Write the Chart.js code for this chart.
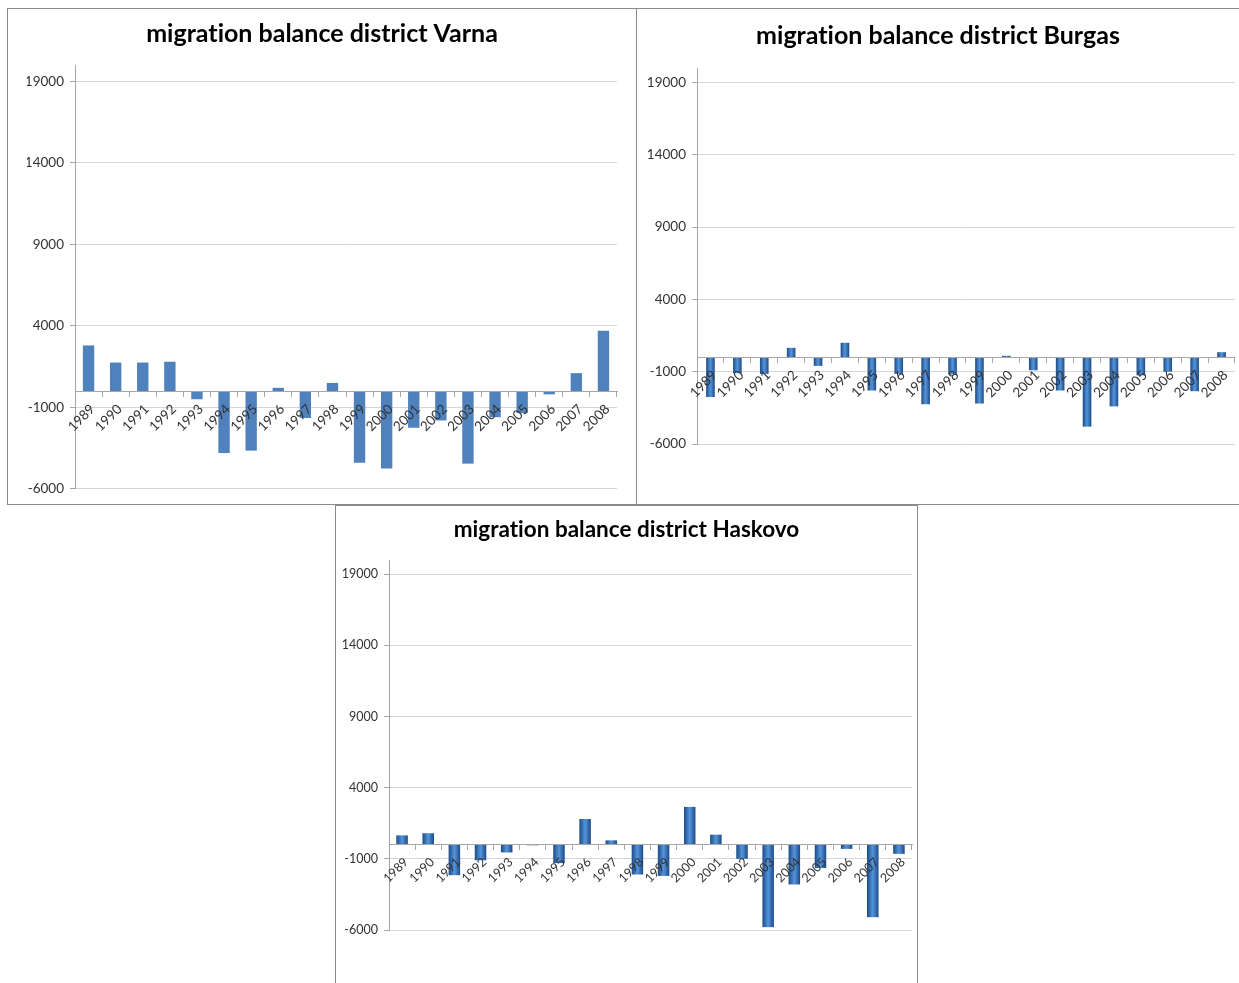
<!DOCTYPE html>
<html>
<head>
<meta charset="utf-8">
<script src="https://cdn.jsdelivr.net/npm/chart.js@4.4.1/dist/chart.umd.min.js"></script>
<style>
  html, body { margin: 0; padding: 0; background: #fff; }
  body { position: relative; width: 1239px; height: 983px; overflow: hidden; }
  .frame { position: absolute; box-sizing: border-box; border: 1.5px solid #8a8a8a; background: #fff; }
  canvas { position: absolute; }
</style>
</head>
<body>
<div class="frame" style="left:7px;top:8px;width:630px;height:497px"></div>
<div class="frame" style="left:636px;top:8px;width:610px;height:497px"></div>
<div class="frame" style="left:335px;top:505px;width:583px;height:490px"></div>
<canvas id="varna" width="626" height="493" style="left:9px;top:10px"></canvas>
<canvas id="burgas" width="600" height="493" style="left:638px;top:10px"></canvas>
<canvas id="haskovo" width="579" height="476" style="left:337px;top:507px"></canvas>
<script>
// Years on the category axis
const years = ['1989','1990','1991','1992','1993','1994','1995','1996','1997','1998',
               '1999','2000','2001','2002','2003','2004','2005','2006','2007','2008'];

// Net migration per year, by district
const varna   = [2800, 1750, 1750, 1800, -500, -3800, -3650, 200, -1650, 500,
                 -4400, -4750, -2250, -1800, -4450, -1600, -1350, -200, 1100, 3700];
const burgas  = [-2750, -1100, -1150, 650, -600, 1000, -2300, -1150, -3250, -1200,
                 -3200, 100, -900, -2300, -4800, -3400, -1250, -1000, -2350, 350];
const haskovo = [650, 800, -2150, -1100, -550, -50, -1300, 1800, 300, -2100,
                 -2200, 2650, 700, -1000, -5800, -2800, -1650, -300, -5100, -650];

// Value axis tick labels
const yTicks = [-6000, -1000, 4000, 9000, 14000, 19000];

const TEXT = '#333333';
const AXIS = '#a6a6a6';
const GRID = '#d6d6d6';

// Plain glyphs, no "ti" ligature in the titles
const plainText = {
  id: 'plainText',
  beforeDraw(chart) { chart.ctx.textRendering = 'optimizeSpeed'; }
};

// Shades each bar with a horizontal edge-to-centre gradient (bevelled look)
const bevel = {
  id: 'bevel',
  beforeDatasetsDraw(chart, args, opts) {
    if (!opts.on) return;
    const ctx = chart.ctx;
    chart.getDatasetMeta(0).data.forEach(el => {
      const { x, width } = el.getProps(['x', 'width'], true);
      const g = ctx.createLinearGradient(x - width / 2, 0, x + width / 2, 0);
      g.addColorStop(0, opts.edge);
      g.addColorStop(0.5, opts.mid);
      g.addColorStop(1, opts.edge);
      el.options.backgroundColor = g;
    });
  }
};

function drawChart(id, title, values, o) {
  const tickFont = { family: 'Lato', size: o.tickSize };
  new Chart(document.getElementById(id), {
    type: 'bar',
    data: {
      labels: years,
      datasets: [{
        data: values,
        // scriptable so every bar keeps its own options object
        backgroundColor: () => o.color,
        borderWidth: 0,
        barPercentage: o.barPct,
        categoryPercentage: 1
      }]
    },
    plugins: [plainText, bevel],
    options: {
      responsive: false,
      animation: false,
      events: [],
      layout: { padding: { left: o.padSide, right: o.padSide, top: 0, bottom: o.padBottom } },
      plugins: {
        legend: { display: false },
        tooltip: { enabled: false },
        title: {
          display: true,
          text: title,
          color: '#000',
          font: { family: 'Lato', size: o.titleSize, weight: 'bold', lineHeight: 1.2 },
          padding: { top: o.titleTop, bottom: o.titleBottom }
        },
        bevel: o.bevel || { on: false }
      },
      scales: {
        x: {
          position: { y: 0 },
          grid: { offset: true, drawOnChartArea: false, drawTicks: true, tickLength: 5, color: AXIS },
          border: { color: AXIS, z: 1 },
          ticks: { z: 1, autoSkip: false, minRotation: 45, maxRotation: 45, font: tickFont, color: TEXT,
                   padding: 5, labelOffset: 4 }
        },
        y: {
          min: -6000,
          max: 20000,
          afterBuildTicks: s => { s.ticks = yTicks.map(v => ({ value: v })); },
          afterFit: s => { s.width = o.axisW; },
          grid: { color: GRID, tickLength: 5, tickColor: AXIS },
          border: { color: AXIS },
          ticks: { font: tickFont, color: TEXT, padding: 6, callback: v => String(v) }
        }
      }
    }
  });
}

drawChart('varna', 'migration balance district Varna', varna, {
  color: '#4f81bd', barPct: 0.42, tickSize: 13.5, titleSize: 25,
  titleTop: 9, titleBottom: 16, padSide: 18, padBottom: 13, axisW: 48
});
drawChart('burgas', 'migration balance district Burgas', burgas, {
  color: '#2b62a8', barPct: 0.32, tickSize: 13.5, titleSize: 25,
  titleTop: 11, titleBottom: 17, padSide: 0, padBottom: 59, axisW: 59,
  bevel: { on: true, edge: '#1c4a85', mid: '#5595dc' }
});
drawChart('haskovo', 'migration balance district Haskovo', haskovo, {
  color: '#2b62a8', barPct: 0.44, tickSize: 12.5, titleSize: 22.5,
  titleTop: 9, titleBottom: 17, padSide: 4, padBottom: 53, axisW: 48,
  bevel: { on: true, edge: '#1c4a85', mid: '#5595dc' }
});
</script>
</body>
</html>
